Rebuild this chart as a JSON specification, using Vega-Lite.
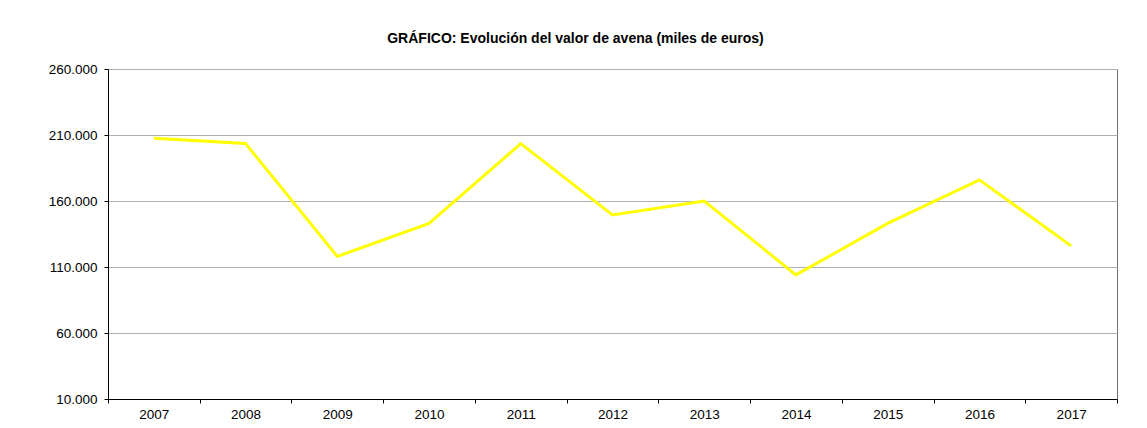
{
  "$schema": "https://vega.github.io/schema/vega-lite/v6.json",
  "width": 1009,
  "height": 330,
  "autosize": {"type": "none"},
  "padding": {"left": 108, "top": 69, "right": 30, "bottom": 29},
  "background": "white",
  "config": {
    "font": "Liberation Sans",
    "locale": {"number": {"decimal": ",", "thousands": ".", "grouping": [3], "currency": ["", " €"]}},
    "view": {"stroke": "#707070", "strokeWidth": 1}
  },
  "title": {
    "text": "GRÁFICO: Evolución del valor de avena (miles de euros)",
    "font": "Liberation Sans",
    "fontSize": 14,
    "fontWeight": "bold",
    "color": "black",
    "anchor": "middle",
    "dx": -37,
    "offset": 16
  },
  "data": {
    "values": [
      {"year": "2007", "value": 207500},
      {"year": "2008", "value": 203500},
      {"year": "2009", "value": 118000},
      {"year": "2010", "value": 143000},
      {"year": "2011", "value": 203500},
      {"year": "2012", "value": 149500},
      {"year": "2013", "value": 160000},
      {"year": "2014", "value": 104000},
      {"year": "2015", "value": 143000},
      {"year": "2016", "value": 176000},
      {"year": "2017", "value": 126000}
    ]
  },
  "mark": {"type": "line", "color": "#FFFF00", "strokeWidth": 3},
  "encoding": {
    "x": {
      "field": "year",
      "type": "ordinal",
      "scale": {"type": "band", "paddingInner": 0, "paddingOuter": 0},
      "axis": {
        "title": null,
        "labelAngle": 0,
        "tickBand": "extent",
        "domainColor": "black",
        "tickColor": "black",
        "tickSize": 4,
        "labelPadding": 4,
        "labelFontSize": 13.5,
        "labelColor": "black",
        "grid": false
      }
    },
    "y": {
      "field": "value",
      "type": "quantitative",
      "scale": {"domain": [10000, 260000], "nice": false, "zero": false},
      "axis": {
        "title": null,
        "values": [10000, 60000, 110000, 160000, 210000, 260000],
        "format": ",d",
        "domainColor": "black",
        "tickColor": "black",
        "tickSize": 4,
        "labelPadding": 7,
        "labelFontSize": 13.5,
        "labelColor": "black",
        "grid": true,
        "gridColor": "#b0b0b0",
        "gridWidth": 1
      }
    }
  }
}
